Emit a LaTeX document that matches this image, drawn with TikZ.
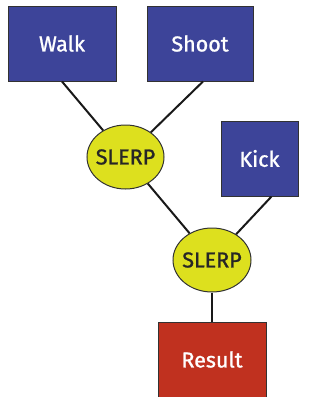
\documentclass[tikz,border=0pt]{standalone}
\usepackage{fontspec}
\setmainfont{Fira Sans}
\newfontfamily\labelfont{Fira Sans}[FakeBold=1.2]
\usetikzlibrary{shapes.geometric}
\definecolor{boxblue}{RGB}{61,68,153}
\definecolor{slerpyellow}{RGB}{221,224,30}
\definecolor{resultred}{RGB}{192,49,31}
\definecolor{edgegray}{RGB}{50,50,50}
\tikzset{
  clip box/.style={draw=edgegray, line width=1pt, fill=boxblue, text=white,
    minimum width=108pt, minimum height=75pt, inner sep=0pt, font=\labelfont\fontsize{21.5}{23}\selectfont},
  slerpnode/.style={ellipse, draw=edgegray, line width=1pt, fill=slerpyellow, text=black!85,
    minimum width=77pt, minimum height=64pt, inner sep=0pt, font=\labelfont\fontsize{21.5}{23}\selectfont},
  link/.style={draw=black!90, line width=2pt}
}
\begin{document}
\begin{tikzpicture}[x=1pt,y=-1pt]
\useasboundingbox (0,0) rectangle (324,397);
\node[clip box] (walk) at (62,43.5) {Walk};
\node[clip box, minimum width=106pt] (shoot) at (200,43.5) {Shoot};
\node[clip box, minimum width=77pt, minimum height=75pt] (kick) at (259.5,158.5) {Kick};
\node[slerpnode] (s1) at (125.5,157) {\makebox[0pt]{SLERP}};
\node[slerpnode, minimum width=78pt] (s2) at (212,260) {\makebox[0pt]{SLERP}};
\node[clip box, fill=resultred] (result) at (212,359.5) {Result};
\draw[link] (walk.south) -- (s1);
\draw[link] ([xshift=3pt]shoot.south) -- (s1);
\draw[link] (s1) -- (s2);
\draw[link] ([xshift=12pt]kick.south) -- (s2);
\draw[link] (s2) -- (result);
\end{tikzpicture}
\end{document}
